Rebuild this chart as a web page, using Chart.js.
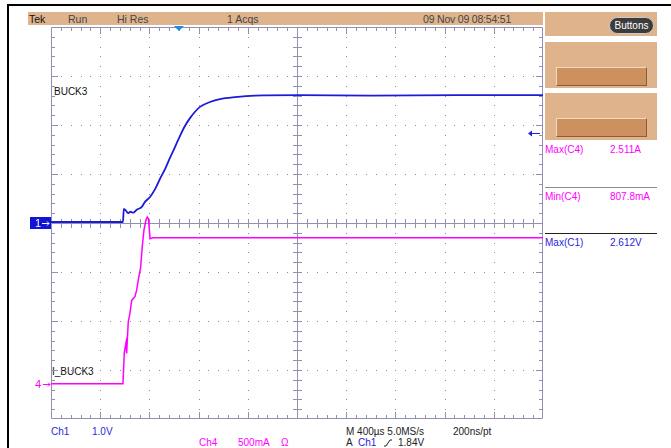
<!DOCTYPE html>
<html lang="en">
<head>
<meta charset="UTF-8">
<title>Scope capture - BUCK3 start-up</title>
<script src="https://cdn.jsdelivr.net/npm/chart.js"></script>
<style>
  body { margin: 0; width: 671px; height: 448px; background: #fff; position: relative; overflow: hidden;
         font-family: "Liberation Sans", Arial, sans-serif; font-size: 10px; color: #222; }
  #scope { position: absolute; left: 0; top: 0; }
  .t { position: absolute; white-space: nowrap; line-height: 12px; }
  .hdr { font-size: 10.5px; color: #444; }
  .tan { position: absolute; background: #dfb48d; }
  .btn { position: absolute; box-sizing: border-box; background: #cd915f;
         border-top: 1px solid #f4d9bc; border-left: 1px solid #f4d9bc;
         border-right: 1px solid #8a5d3b; border-bottom: 1px solid #8a5d3b; }
  .pink { color: #f0f; }
  .blue { color: #1f1fdc; }
  .rule { position: absolute; height: 1px; }
</style>
</head>
<body>
  <!-- outer frame -->
  <div style="position:absolute;left:7px;top:4px;width:664px;height:2px;background:#000"></div>
  <div style="position:absolute;left:7px;top:4px;width:2px;height:444px;background:#000"></div>

  <!-- status bar -->
  <div class="tan" style="left:28px;top:12px;width:515px;height:13px"></div>
  <div class="t hdr" style="left:29px;top:13px;color:#111">Tek</div>
  <div class="t hdr" style="left:68px;top:13px">Run</div>
  <div class="t hdr" style="left:117px;top:13px">Hi Res</div>
  <div class="t hdr" style="left:227px;top:13px">1 Acqs</div>
  <div class="t hdr" style="left:423px;top:13px;letter-spacing:-0.2px">09 Nov 09 08:54:51</div>

  <!-- right panel -->
  <div class="tan" style="left:545px;top:12px;width:112px;height:24px"></div>
  <div class="t" style="left:609px;top:17px;width:45px;height:17px;line-height:15px;box-sizing:border-box;background:#3c3c3c;color:#fff;border:1px solid #ccc;border-radius:9px;text-align:center">Buttons</div>
  <div class="tan" style="left:545px;top:42px;width:112px;height:46px"></div>
  <div class="btn" style="left:556px;top:67px;width:91px;height:19px"></div>
  <div class="tan" style="left:545px;top:93px;width:112px;height:47px"></div>
  <div class="btn" style="left:556px;top:118px;width:91px;height:19px"></div>
  <div id="readouts"></div>

  <!-- trace labels -->
  <div class="t" style="left:54px;top:86px;color:#111">BUCK3</div>
  <div class="t" style="left:52px;top:366px;color:#111">I_BUCK3</div>

  <!-- bottom settings -->
  <div class="t blue" style="left:51px;top:426px">Ch1</div>
  <div class="t blue" style="left:92px;top:426px">1.0V</div>
  <div class="t pink" style="left:199px;top:437px">Ch4</div>
  <div class="t pink" style="left:238px;top:437px">500mA</div>
  <div class="t pink" style="left:281px;top:437px">Ω</div>
  <div class="t" style="left:346px;top:426px">M 400µs 5.0MS/s</div>
  <div class="t" style="left:453px;top:426px">200ns/pt</div>
  <div class="t" style="left:346px;top:437px">A</div>
  <div class="t blue" style="left:358px;top:437px">Ch1</div>
  <svg style="position:absolute;left:384px;top:439px" width="9" height="8">
    <polyline points="0,7 2,7 6,1 8,1" fill="none" stroke="#222" stroke-width="1"/>
  </svg>
  <div class="t" style="left:398px;top:437px">1.84V</div>

  <canvas id="scope" width="671" height="448"></canvas>

  <script>
    // horizontal: microseconds from the left graticule edge
    const timePerDiv = 400;
    const ch1VoltsPerDiv = 1.0;
    const ch4AmpsPerDiv = 0.5;
    const ch4Offset = 0.81;      // A, where the "4" marker sits
    const ch4Position = -3.28;   // divisions from centre
    const triggerTime = 1040;
    const triggerLevel = 1.84;

    // Ch1 - BUCK3 output voltage (V)
    const ch1Time  = [0, 585, 592, 610, 626, 646, 667, 697, 738, 764, 805, 846, 886, 927, 967, 1008,
                      1049, 1089, 1130, 1171, 1211, 1293, 1374, 1496, 1659, 2024, 2600, 3300, 4000];
    const ch1Volts = [0.02, 0.02, 0.29, 0.25, 0.20, 0.23, 0.21, 0.27, 0.33, 0.43, 0.53, 0.69, 0.90, 1.10, 1.33, 1.55,
                      1.78, 1.98, 2.14, 2.27, 2.37, 2.47, 2.53, 2.57, 2.60, 2.61, 2.60, 2.61, 2.61];

    // Ch4 - I_BUCK3 current (A)
    const ch4Time = [0, 585, 596, 610, 615, 628, 642, 656, 683, 697, 710, 729, 742, 756, 772, 783, 793, 805, 829, 4000];
    const ch4Amps = [0.81, 0.81, 1.13, 1.23, 1.12, 1.44, 1.53, 1.66, 1.70, 1.77, 1.87, 2.00, 2.21, 2.38, 2.48, 2.511,
                     2.49, 2.29, 2.30, 2.30];

    const readoutNames  = ['Max(C4)', 'Min(C4)', 'Max(C1)'];
    const readoutValues = ['2.511A', '807.8mA', '2.612V'];
    const readoutClass  = ['pink', 'pink', 'blue'];

    // measurement readouts in the side panel
    const ro = document.getElementById('readouts');
    const rowTop = [144, 191, 237];
    readoutNames.forEach((name, i) => {
      ro.insertAdjacentHTML('beforeend',
        `<div class="t ${readoutClass[i]}" style="left:545px;top:${rowTop[i]}px">${name}</div>` +
        `<div class="t ${readoutClass[i]}" style="left:610px;top:${rowTop[i]}px">${readoutValues[i]}</div>`);
    });
    ro.insertAdjacentHTML('beforeend',
      '<div class="rule" style="left:545px;top:187px;width:112px;background:#8c8c8c"></div>' +
      '<div class="rule" style="left:545px;top:233px;width:112px;background:#222"></div>');

    const ch4Min = ch4Offset - (4 + ch4Position) * ch4AmpsPerDiv;

    const graticule = {
      id: 'graticule',
      beforeDatasetsDraw(chart) {
        const { ctx, chartArea: a, scales: { x, y } } = chart;
        const xDiv = (x.max - x.min) / timePerDiv;
        const yDiv = (y.max - y.min) / ch1VoltsPerDiv;
        const px = t => Math.round(x.getPixelForValue(t));
        const py = v => Math.round(y.getPixelForValue(v));
        const cx = px((x.min + x.max) / 2), cy = py((y.min + y.max) / 2);
        ctx.save();

        // dotted division lines
        ctx.fillStyle = '#8a8aa6';
        for (let d = 1; d < xDiv; d++) {
          if (d === xDiv / 2) continue;
          const gx = px(x.min + d * timePerDiv);
          for (let m = 1; m < yDiv * 5; m++) ctx.fillRect(gx, py(y.min + m * ch1VoltsPerDiv / 5), 1, 1);
        }
        for (let d = 1; d < yDiv; d++) {
          if (d === yDiv / 2) continue;
          const gy = py(y.min + d * ch1VoltsPerDiv);
          for (let m = 1; m < xDiv * 5; m++) ctx.fillRect(px(x.min + m * timePerDiv / 5), gy, 1, 1);
        }

        ctx.strokeStyle = '#9090b2';
        ctx.lineWidth = 1;
        ctx.beginPath();
        // frame
        ctx.rect(a.left + 0.5, a.top + 0.5, a.right - a.left - 1, a.bottom - a.top - 1);
        // centre lines
        ctx.moveTo(cx + 0.5, a.top); ctx.lineTo(cx + 0.5, a.bottom);
        ctx.moveTo(a.left, cy + 0.5); ctx.lineTo(a.right, cy + 0.5);

        // ticks along edges and centre lines
        for (let m = 1; m < xDiv * 5; m++) {
          const tx = px(x.min + m * timePerDiv / 5) + 0.5;
          const len = m % 5 === 0 ? 7 : 4;
          ctx.moveTo(tx, a.top); ctx.lineTo(tx, a.top + len);
          ctx.moveTo(tx, a.bottom); ctx.lineTo(tx, a.bottom - len);
          ctx.moveTo(tx, cy - 4); ctx.lineTo(tx, cy + 5);
        }
        for (let m = 1; m < yDiv * 5; m++) {
          const ty = py(y.min + m * ch1VoltsPerDiv / 5) + 0.5;
          const len = m % 5 === 0 ? 7 : 4;
          ctx.moveTo(a.left, ty); ctx.lineTo(a.left + len, ty);
          ctx.moveTo(a.right, ty); ctx.lineTo(a.right - len, ty);
          ctx.moveTo(cx - 4, ty); ctx.lineTo(cx + 5, ty);
        }
        ctx.stroke();
        ctx.restore();
      },
      afterDraw(chart) {
        const { ctx, chartArea: a, scales: { x, y, y4 } } = chart;
        ctx.save();
        // trigger position
        const tx = x.getPixelForValue(triggerTime);
        ctx.fillStyle = '#1e8ce6';
        ctx.beginPath();
        ctx.moveTo(tx - 5, a.top - 1); ctx.lineTo(tx + 5, a.top - 1); ctx.lineTo(tx, a.top + 4);
        ctx.closePath(); ctx.fill();

        // trigger level arrow
        const ly = Math.round(y.getPixelForValue(triggerLevel)) + 0.5;
        ctx.strokeStyle = '#1f1fdc'; ctx.fillStyle = '#1f1fdc'; ctx.lineWidth = 1;
        ctx.beginPath(); ctx.moveTo(a.right - 14, ly); ctx.lineTo(a.right - 3, ly); ctx.stroke();
        ctx.beginPath(); ctx.moveTo(a.right - 15, ly); ctx.lineTo(a.right - 11, ly - 3); ctx.lineTo(a.right - 11, ly + 3);
        ctx.closePath(); ctx.fill();

        // channel 1 ground marker
        const g1 = Math.round(y.getPixelForValue(0));
        ctx.fillStyle = '#1414d8';
        ctx.fillRect(30, g1 - 6, a.left - 30, 12);
        ctx.fillStyle = '#fff';
        ctx.font = '11px "Liberation Sans", Arial, sans-serif';
        ctx.textBaseline = 'middle';
        ctx.fillText('1', 35, g1 + 1);
        ctx.strokeStyle = '#fff';
        ctx.beginPath(); ctx.moveTo(42, g1 + 0.5); ctx.lineTo(49, g1 + 0.5);
        ctx.moveTo(47, g1 - 1.5); ctx.lineTo(49, g1 + 0.5); ctx.lineTo(47, g1 + 2.5); ctx.stroke();

        // channel 4 marker
        const g4 = Math.round(y4.getPixelForValue(ch4Offset));
        ctx.fillStyle = '#f0f'; ctx.strokeStyle = '#f0f';
        ctx.fillText('4', 35, g4 + 1);
        ctx.beginPath(); ctx.moveTo(43, g4 + 0.5); ctx.lineTo(50, g4 + 0.5);
        ctx.moveTo(48, g4 - 1.5); ctx.lineTo(50, g4 + 0.5); ctx.lineTo(48, g4 + 2.5); ctx.stroke();
        ctx.restore();
      }
    };

    new Chart(document.getElementById('scope'), {
      type: 'line',
      data: {
        datasets: [{
          label: 'Ch1',
          data: ch1Time.map((t, i) => ({ x: t, y: ch1Volts[i] })),
          yAxisID: 'y',
          borderColor: '#1c1cd6',
          borderWidth: 1.8,
          pointRadius: 0,
          cubicInterpolationMode: 'monotone'
        }, {
          label: 'Ch4',
          data: ch4Time.map((t, i) => ({ x: t, y: ch4Amps[i] })),
          yAxisID: 'y4',
          borderColor: '#ff00ff',
          borderWidth: 1.5,
          pointRadius: 0,
          tension: 0
        }]
      },
      options: {
        responsive: false,
        animation: false,
        layout: { padding: { left: 51, top: 27, right: 128, bottom: 29 } },
        plugins: { legend: { display: false }, tooltip: { enabled: false } },
        scales: {
          x: { type: 'linear', min: 0, max: 10 * timePerDiv, display: false },
          y: { min: -4 * ch1VoltsPerDiv, max: 4 * ch1VoltsPerDiv, display: false },
          y4: { min: ch4Min, max: ch4Min + 8 * ch4AmpsPerDiv, display: false }
        }
      },
      plugins: [graticule]
    });
  </script>
</body>
</html>
